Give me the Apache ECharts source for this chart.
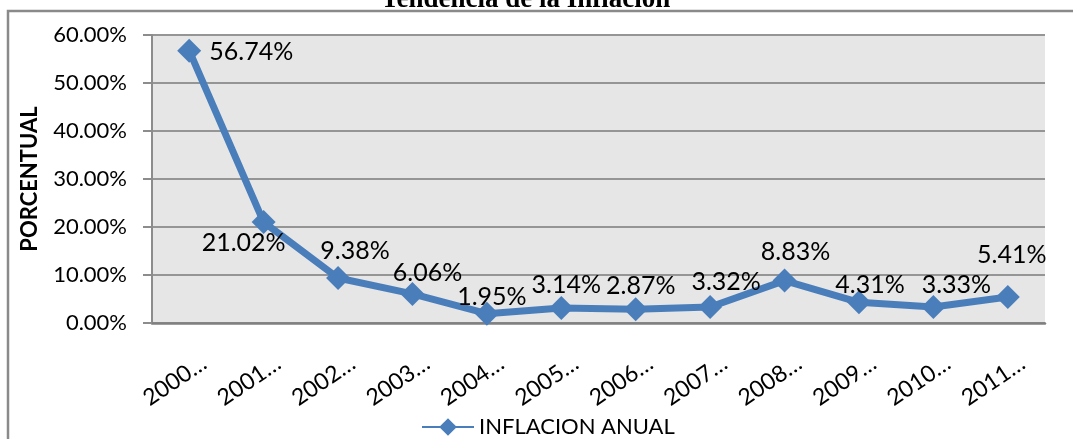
<!DOCTYPE html>
<html>
<head>
<meta charset="utf-8">
<script src="https://cdn.jsdelivr.net/npm/echarts@6/dist/echarts.min.js"></script>
<style>
  html, body { margin: 0; padding: 0; background: #fff; }
  #main { width: 1073px; height: 439px; }
</style>
</head>
<body>
<div id="main"></div>
<script>
// datos
var years = ["2000", "2001", "2002", "2003", "2004", "2005", "2006", "2007", "2008", "2009", "2010", "2011"];
var inflacion = [56.74, 21.02, 9.38, 6.06, 1.95, 3.14, 2.87, 3.32, 8.83, 4.31, 3.33, 5.41];
// desplazamiento de cada etiqueta respecto al punto
var labelOffsets = [[62, 1], [-20, 21], [17, -27], [15, -21], [5, -17], [5, -23], [5, -23], [16, -25], [11, -29], [11, -17], [23, -22], [4, -42]];

var myChart = echarts.init(document.getElementById("main"));

var seriesData = inflacion.map(function (v, i) {
  return {
    value: v,
    label: { offset: labelOffsets[i] }
  };
});

var option = {
  animation: false,
  textStyle: { fontFamily: "Lato" },
  title: {
    text: "Tendencia de la Inflación",
    left: 376,
    top: -18,
    textStyle: {
      fontFamily: "Liberation Serif",
      fontWeight: "bold",
      fontSize: 27,
      color: "#000"
    }
  },
  graphic: [
    {
      type: "rect",
      shape: { x: 8, y: 11, width: 1100, height: 500 },
      style: { fill: "none", stroke: "#8a8a8a", lineWidth: 2.5 },
      silent: true
    }
  ],
  grid: {
    left: 152,
    right: 28,
    top: 35,
    bottom: 116,
    show: true,
    backgroundColor: "#e6e6e6",
    borderWidth: 0
  },
  legend: {
    left: 416,
    top: 411,
    itemWidth: 52,
    itemHeight: 22,
    itemGap: 5,
    textStyle: { fontFamily: "Lato", fontSize: 22, color: "#000" },
    data: ["INFLACION ANUAL"]
  },
  xAxis: {
    type: "category",
    data: years,
    boundaryGap: true,
    axisLine: { lineStyle: { color: "#808080", width: 2.5 } },
    axisTick: { show: false },
    axisLabel: {
      interval: 0,
      rotate: 34,
      margin: 16,
      verticalAlign: "top",
      padding: [15, 0, 0, 0],
      fontFamily: "Lato",
      fontSize: 23,
      color: "#000",
      formatter: function (v) {
        return v + "…";
      }
    }
  },
  yAxis: {
    type: "value",
    min: 0,
    max: 60,
    interval: 10,
    name: "PORCENTUAL",
    nameLocation: "middle",
    nameGap: 111,
    nameTextStyle: { fontFamily: "Lato", fontWeight: "bold", fontSize: 22, color: "#000" },
    axisLine: { show: true, lineStyle: { color: "#8c8c8c", width: 2 } },
    axisTick: { show: true, length: 9, lineStyle: { color: "#8c8c8c", width: 2 } },
    splitLine: { lineStyle: { color: "#959595", width: 2 } },
    axisLabel: {
      margin: 25,
      fontFamily: "Lato",
      fontSize: 22,
      color: "#000",
      formatter: function (v) {
        return v.toFixed(2) + "%";
      }
    }
  },
  series: [
    {
      name: "INFLACION ANUAL",
      type: "line",
      data: seriesData,
      symbol: "diamond",
      symbolSize: 24,
      itemStyle: { color: "#4a7ebb" },
      lineStyle: { color: "#4a7ebb", width: 7 },
      label: {
        show: true,
        position: "inside",
        fontFamily: "Lato",
        fontSize: 25,
        color: "#000",
        formatter: function (p) {
          return p.value.toFixed(2) + "%";
        }
      }
    }
  ]
};

option && myChart.setOption(option);
</script>
</body>
</html>
